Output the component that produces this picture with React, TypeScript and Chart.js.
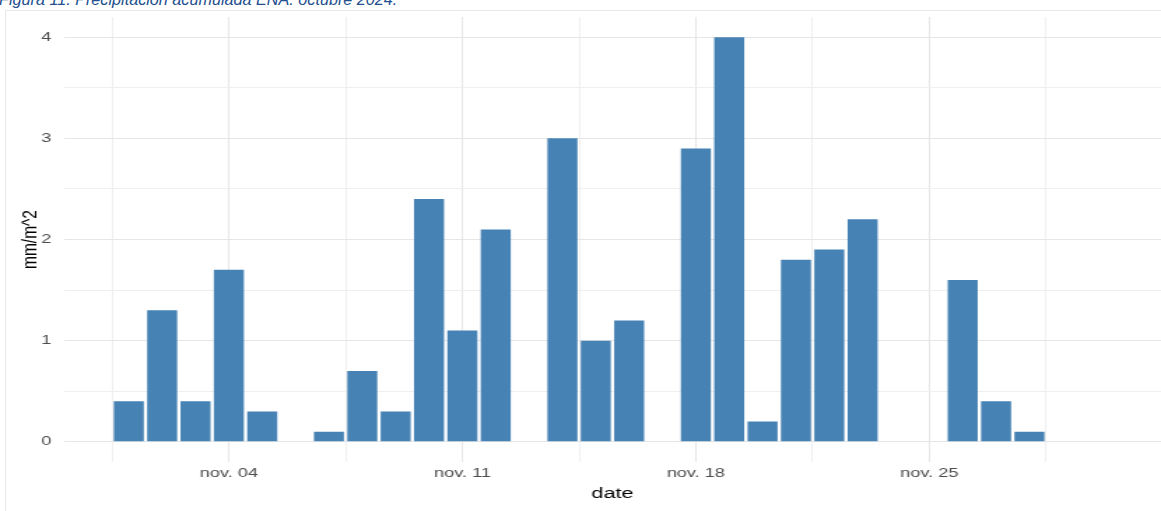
import React, { useEffect, useRef } from "react";
import { Chart, registerables } from "chart.js";

Chart.register(...registerables);

// Data (day of November 2024 -> accumulated precipitation, mm/m^2)
const days: number[] = [1, 2, 3, 4, 5, 6, 7, 8, 9, 10, 11, 12, 13, 14, 15, 16, 17, 18, 19, 20, 21, 22, 23, 24, 25, 26, 27, 28, 29, 30];
const precip: number[] = [0.4, 1.3, 0.4, 1.7, 0.3, 0, 0.1, 0.7, 0.3, 2.4, 1.1, 2.1, 0, 3.0, 1.0, 1.2, 0, 2.9, 4.0, 0.2, 1.8, 1.9, 2.2, 0, 0, 1.6, 0.4, 0.1, 0, 0];

const xMajorTicks: number[] = [4, 11, 18, 25];
const xMinorTicks: number[] = [0.5, 7.5, 14.5, 21.5, 28.5];
const xTickLabels: string[] = ["nov. 04", "nov. 11", "nov. 18", "nov. 25"];
const yMajorTicks: number[] = [0, 1, 2, 3, 4];
const yMinorTicks: number[] = [0.5, 1.5, 2.5, 3.5];

const titleText = "Figura 11: Precipitación acumulada ENA. octubre 2024.";

const FONT = "'Liberation Sans', Arial, sans-serif";
const INNER_W = 830;
const FULL_W = 1161;
const H = 511;
const SX = FULL_W / INNER_W;

export default function App() {
  const ref = useRef<HTMLCanvasElement | null>(null);

  useEffect(() => {
    if (!ref.current) return;
    const span = days[days.length - 1] - days[0] + 0.9;
    const xRangeMin = days[0] - 0.45 - span * 0.05;
    const xRangeMax = days[days.length - 1] + 0.45 + span * 0.05;
    const yMax = Math.max(...precip);
    const chart = new Chart(ref.current, {
      type: "bar",
      data: {
        datasets: [
          {
            data: days.map((d, i) => ({ x: d, y: precip[i] })),
            backgroundColor: "#4682B4",
            borderWidth: 0,
            categoryPercentage: 1,
            barPercentage: 0.9,
          },
        ],
      },
      options: {
        animation: false,
        responsive: false,
        maintainAspectRatio: false,
        layout: { padding: { left: 0, right: 0, top: 17, bottom: 0 } },
        plugins: {
          legend: { display: false },
          tooltip: { enabled: false },
        },
        scales: {
          x: {
            type: "linear",
            offset: false,
            min: xRangeMin,
            max: xRangeMax,
            afterBuildTicks: (scale: any) => {
              scale.ticks = [...xMinorTicks, ...xMajorTicks]
                .sort((a, b) => a - b)
                .map((v) => ({ value: v }));
            },
            afterFit: (scale: any) => {
              scale.height = 49;
            },
            ticks: {
              autoSkip: false,
              maxRotation: 0,
              padding: 4,
              color: "#4D4D4D",
              font: { family: FONT, size: 13 },
              callback: (v: any) => {
                const i = xMajorTicks.indexOf(Number(v));
                return i >= 0 ? xTickLabels[i] : "";
              },
            },
            grid: {
              offset: false,
              drawTicks: false,
              color: (ctx: any) =>
                xMajorTicks.includes(ctx.tick?.value) ? "#E6E6E6" : "#EFEFEF",
              lineWidth: 1,
            },
            border: { display: false },
            title: {
              display: true,
              text: "date",
              color: "#000000",
              font: { family: FONT, size: 15.5 },
              padding: { top: 0, bottom: 8 },
            },
          },
          y: {
            type: "linear",
            min: -0.05 * yMax,
            max: yMax * 1.05,
            afterBuildTicks: (scale: any) => {
              scale.ticks = [...yMinorTicks, ...yMajorTicks]
                .sort((a, b) => a - b)
                .map((v) => ({ value: v }));
            },
            afterFit: (scale: any) => {
              scale.width = 45.7;
            },
            ticks: {
              autoSkip: false,
              padding: 9,
              color: "#4D4D4D",
              font: { family: FONT, size: 13 },
              callback: (v: any) =>
                yMajorTicks.includes(Number(v)) ? String(v) : "",
            },
            grid: {
              drawTicks: false,
              color: (ctx: any) =>
                yMajorTicks.includes(ctx.tick?.value) ? "#E6E6E6" : "#EFEFEF",
              lineWidth: 1,
            },
            border: { display: false },
            title: {
              display: true,
              text: "mm/m^2",
              color: "#000000",
              font: { family: FONT, size: 15.5 },
              padding: { top: 12, bottom: 0 },
            },
          },
        },
      },
    } as any);
    return () => chart.destroy();
  }, []);

  return (
    <div
      style={{
        position: "fixed",
        left: 0,
        top: 0,
        width: FULL_W,
        height: H,
        overflow: "hidden",
        background: "#ffffff",
      }}
    >
      <div
        style={{
          position: "absolute",
          left: 5,
          top: 10,
          width: FULL_W + 20,
          height: H + 20,
          border: "1px solid #E8E8E8",
          boxSizing: "border-box",
        }}
      />
      <div
        style={{
          position: "absolute",
          left: -1,
          top: -10,
          fontFamily: FONT,
          fontStyle: "italic",
          fontSize: 16.2,
          color: "#24508F",
          whiteSpace: "nowrap",
          lineHeight: "18px",
        }}
      >
        {titleText}
      </div>
      <div
        style={{
          position: "absolute",
          left: 0,
          top: 0,
          width: INNER_W,
          height: H,
          transform: `scaleX(${SX})`,
          transformOrigin: "0 0",
        }}
      >
        <canvas ref={ref} width={INNER_W} height={H} style={{ display: "block" }} />
      </div>
    </div>
  );
}
